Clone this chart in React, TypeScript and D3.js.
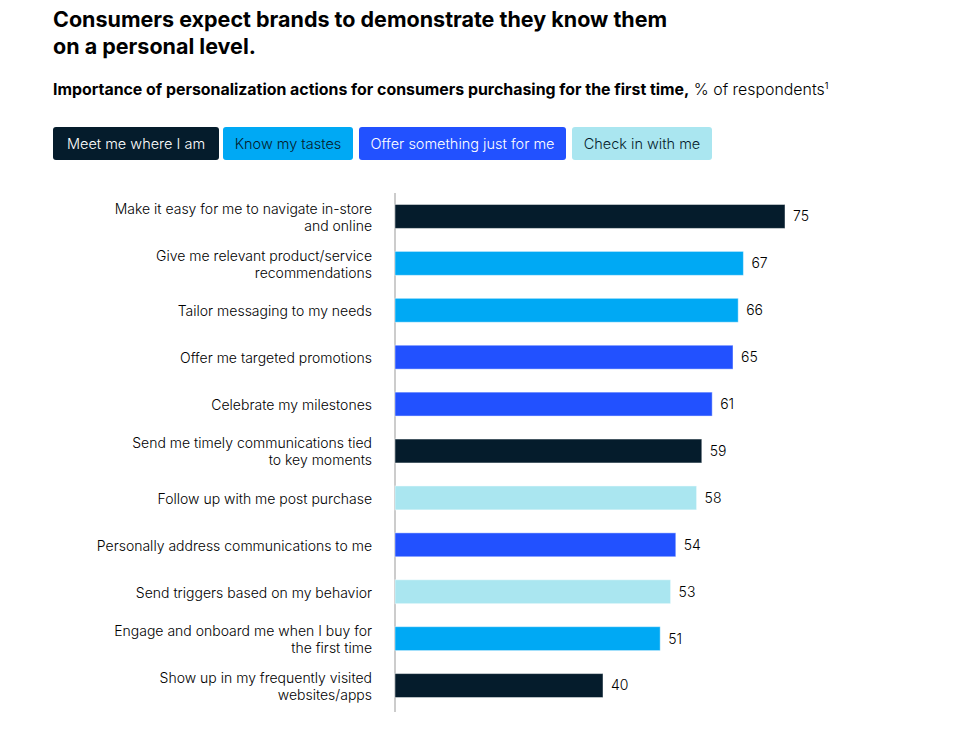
import React from "react";
import * as d3 from "d3";

const categories: string[][] = [
  ["Make it easy for me to navigate in-store", "and online"],
  ["Give me relevant product/service", "recommendations"],
  ["Tailor messaging to my needs"],
  ["Offer me targeted promotions"],
  ["Celebrate my milestones"],
  ["Send me timely communications tied", "to key moments"],
  ["Follow up with me post purchase"],
  ["Personally address communications to me"],
  ["Send triggers based on my behavior"],
  ["Engage and onboard me when I buy for", "the first time"],
  ["Show up in my frequently visited", "websites/apps"],
];
const values = [75, 67, 66, 65, 61, 59, 58, 54, 53, 51, 40];
const groups = [0, 1, 1, 2, 2, 0, 3, 2, 3, 1, 0];
const legendLabels = ["Meet me where I am", "Know my tastes", "Offer something just for me", "Check in with me"];
const legendColors = ["#051c2c", "#00a9f4", "#2251ff", "#aae6f0"];
const legendText = ["#ffffff", "#051c2c", "#ffffff", "#051c2c"];

const FONT = "Inter, 'Noto Sans', sans-serif";

export default function App() {
  const width = 969;
  const height = 736;
  const x0 = 395;
  const x = d3.scaleLinear().domain([0, 75]).range([x0, 785]);
  const y = d3
    .scaleBand<number>()
    .domain(values.map((_, i) => i))
    .range([193, 709])
    .paddingInner(0.49)
    .paddingOuter(0.245);

  const legendX = [53, 223, 359, 572];
  const legendW = [166, 130, 207, 140];

  return (
    <svg width={width} height={height} style={{ position: "absolute", left: 0, top: 0, background: "#fff" }} fontFamily={FONT}>
      <text x={53} y={27} fontSize={21.5} fontWeight={700} fill="#000">
        Consumers expect brands to demonstrate they know them
      </text>
      <text x={53} y={54} fontSize={21.5} fontWeight={700} fill="#000">
        on a personal level.
      </text>
      <text x={53} y={95} fontSize={15.9} fill="#000">
        <tspan fontWeight={700}>Importance of personalization actions for consumers purchasing for the first time,</tspan>
        <tspan fontWeight={300}> % of respondents</tspan>
        <tspan fontSize={9} dy={-6}>1</tspan>
      </text>
      {legendLabels.map((l, i) => (
        <g key={l}>
          <rect x={legendX[i]} y={127} width={legendW[i]} height={33} rx={3} fill={legendColors[i]} />
          <text
            x={legendX[i] + legendW[i] / 2}
            y={144}
            dy="0.35em"
            textAnchor="middle"
            fontSize={14.5}
            fontWeight={300}
            fill={legendText[i]}
          >
            {l}
          </text>
        </g>
      ))}
      <line x1={x0} x2={x0} y1={193} y2={712} stroke="#999" strokeWidth={1} />
      {values.map((v, i) => {
        const yy = y(i)!;
        const bw = y.bandwidth();
        const cy = yy + bw / 2;
        const lines = categories[i];
        const lh = 17;
        return (
          <g key={i}>
            <rect
              x={x(0)}
              y={yy}
              width={x(v) - x(0)}
              height={bw}
              fill={legendColors[groups[i]]}
              stroke="#ffffff"
              strokeOpacity={0.45}
              strokeWidth={1}
            />
            <text x={x(v) + 8} y={cy} dy="0.35em" fontSize={14} fontWeight={300} fill="#000">
              {v}
            </text>
            {lines.map((ln, j) => (
              <text
                key={j}
                x={372}
                y={cy + 1 + (j - (lines.length - 1) / 2) * lh}
                dy="0.35em"
                textAnchor="end"
                fontSize={14}
                fontWeight={300}
                fill="#000"
              >
                {ln}
              </text>
            ))}
          </g>
        );
      })}
    </svg>
  );
}
